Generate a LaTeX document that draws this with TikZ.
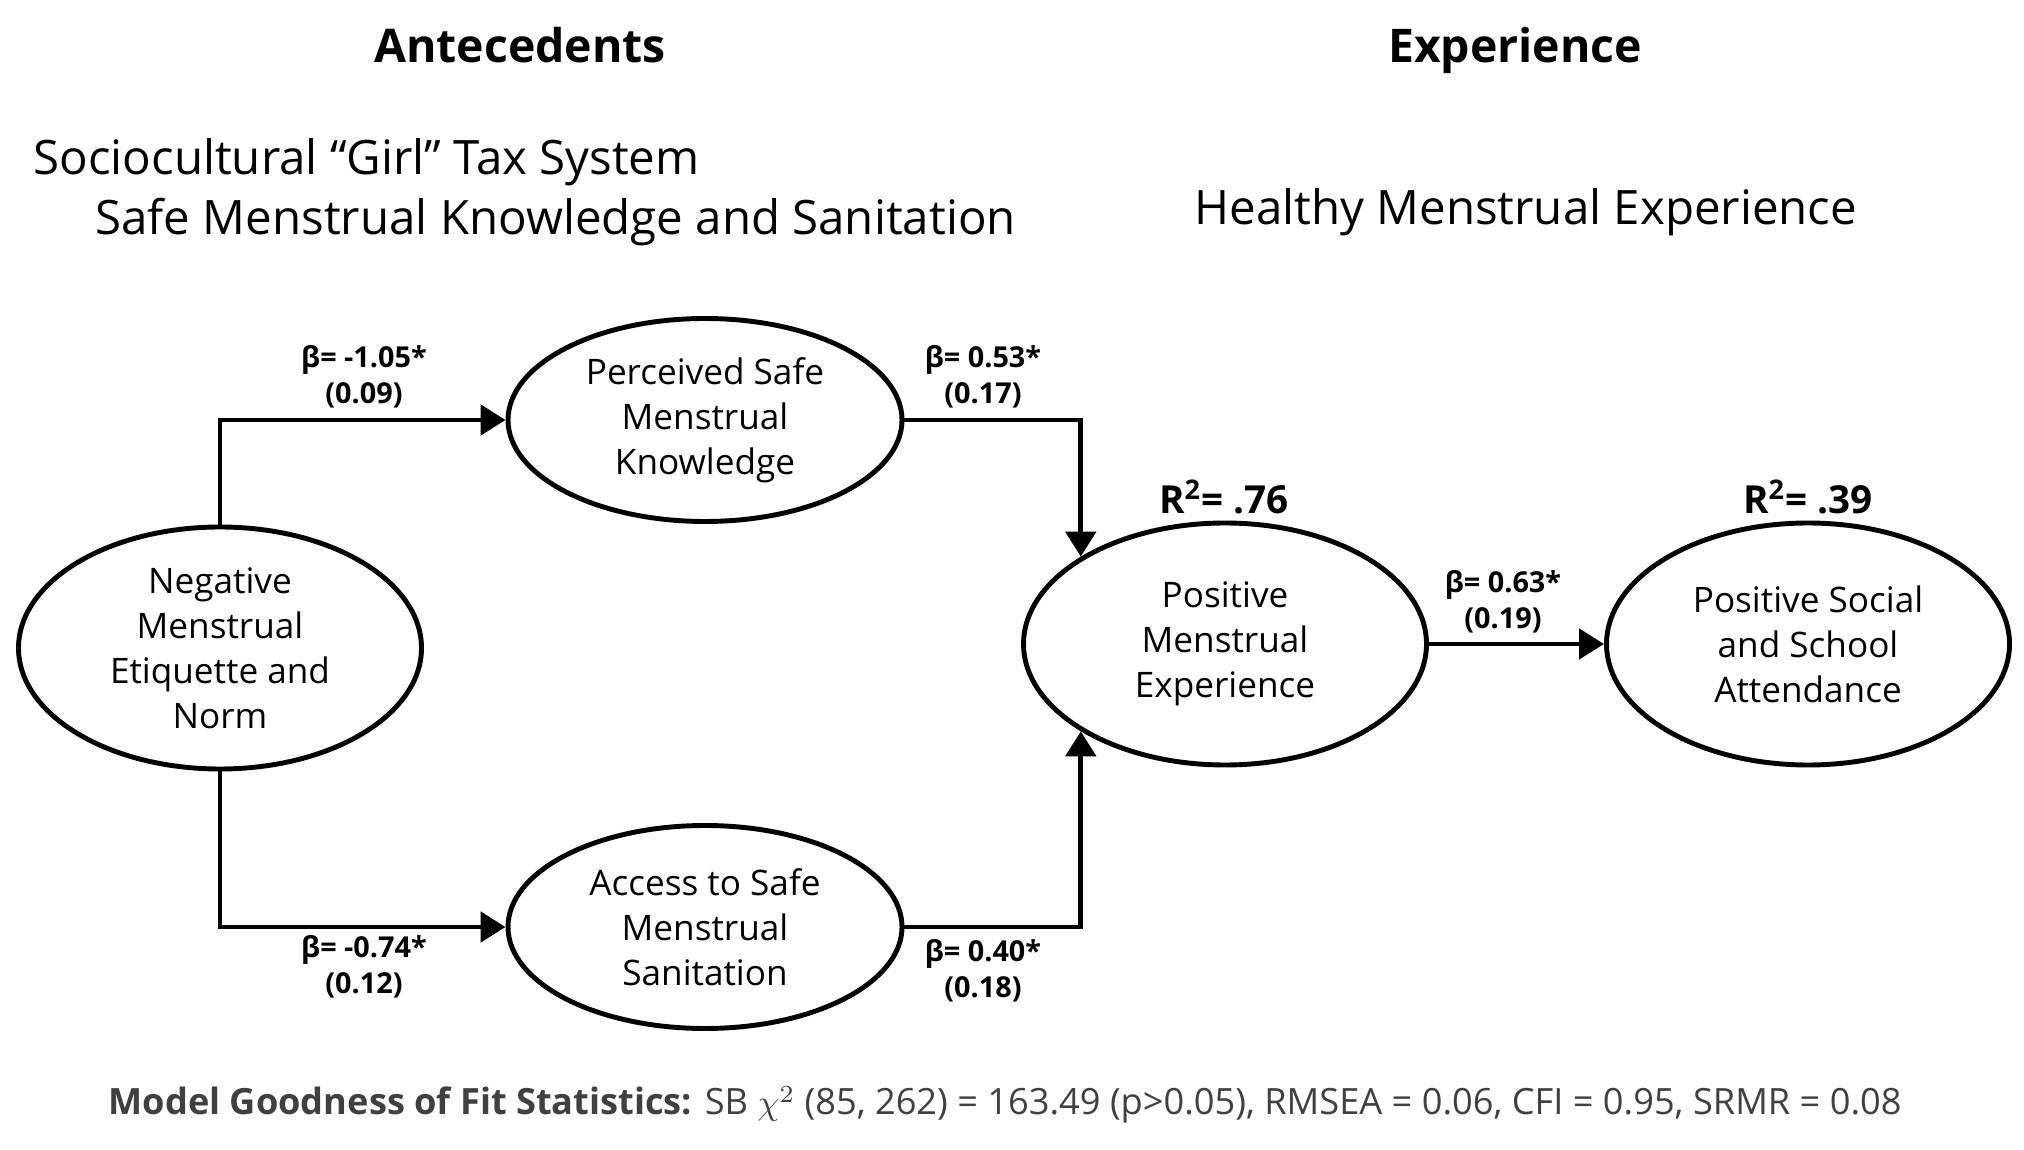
\documentclass[tikz,border=0pt]{standalone}
\usepackage{fontspec}
\setmainfont{Open Sans}
\usetikzlibrary{shapes.geometric, arrows.meta}
\definecolor{fitgray}{HTML}{404040}

\begin{document}
\begin{tikzpicture}[line width = 1.4pt,
                    big/.style = {ellipse, draw, minimum width = 4.03cm, minimum height = 2.42cm,
                                  inner sep = 0pt, align = center, font = \fontsize{10}{12.8}\selectfont},
                    small/.style = {ellipse, draw, minimum width = 3.94cm, minimum height = 2.03cm,
                                    inner sep = 0pt, align = center, font = \fontsize{10}{12.8}\selectfont},
                    coef/.style = {align = center, font = \fontsize{8.2}{10.2}\selectfont\bfseries},
                    rsq/.style = {font = \fontsize{11}{13}\selectfont\bfseries},
                    head/.style = {anchor = base, font = \fontsize{13.2}{15}\selectfont\bfseries},
                    group/.style = {anchor = base west, inner sep = 0pt, font = \fontsize{13.5}{16}\selectfont},
                    link/.style = {-{Triangle[length = 0.25cm, width = 0.3cm]}}]
  \useasboundingbox (0, 0) rectangle (20.24, -11.5);
  % headings
  \node [head] (H1) at (5.2, -0.63) {Antecedents};
  \node [head] (H2) at (15.15, -0.63) {Experience};
  \node [group] (G1) at (0.31, -1.75) {Sociocultural “Girl” Tax System};
  \node [group] (G2) at (0.93, -2.35) {Safe Menstrual Knowledge and Sanitation};
  \node [group] (G3) at (11.92, -2.25) {Healthy Menstrual Experience};
  % latent variables
  \node [big] (N) at (2.2, -6.48) {Negative\\Menstrual\\Etiquette and\\Norm};
  \node [small] (K) at (7.05, -4.2) {Perceived Safe\\Menstrual\\Knowledge};
  \node [small] (S) at (7.05, -9.27) {Access to Safe\\Menstrual\\Sanitation};
  \node [big] (E) at (12.25, -6.44) {Positive\\Menstrual\\Experience};
  \node [big] (A) at (18.08, -6.44) {Positive Social\\and School\\Attendance};
  % paths
  \draw [link] (N.north) |- (K.west);
  \draw [link] (N.south) |- (S.west);
  \draw [link] (K.east) -| (E.north west);
  \draw [link] (S.east) -| (E.south west);
  \draw [link] (E) -- (A);
  \node [coef] (B1) at (3.64, -3.77) {β= -1.05*\\(0.09)};
  \node [coef] (B2) at (9.83, -3.77) {β= 0.53*\\(0.17)};
  \node [coef] (B3) at (3.64, -9.67) {β= -0.74*\\(0.12)};
  \node [coef] (B4) at (9.83, -9.71) {β= 0.40*\\(0.18)};
  \node [coef] (B5) at (15.03, -6.02) {β= 0.63*\\(0.19)};
  \node [rsq] (R1) at (12.24, -4.97) {R\textsuperscript{2}= .76};
  \node [rsq] (R2) at (18.08, -4.97) {R\textsuperscript{2}= .39};
  % fit
  \node [text = fitgray, font = \fontsize{10.3}{12}\selectfont] (F) at (10.05, -11.05)
    {\textbf{Model Goodness of Fit Statistics:} SB $\chi^2$ (85, 262) = 163.49 (p>0.05), RMSEA = 0.06, CFI = 0.95, SRMR = 0.08};
\end{tikzpicture}
\end{document}
